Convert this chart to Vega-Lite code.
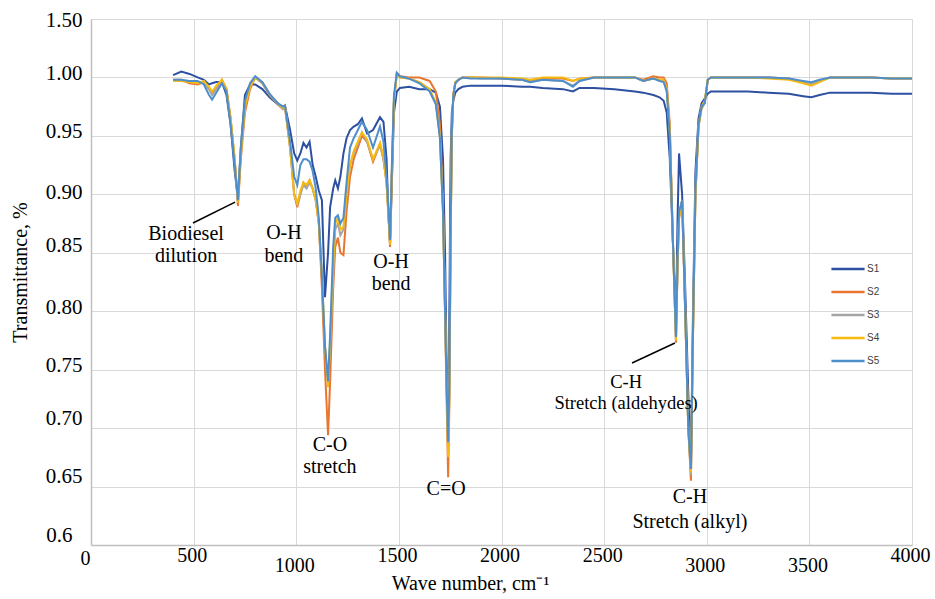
{
  "$schema": "https://vega.github.io/schema/vega-lite/v6.json",
  "width": 821,
  "height": 526,
  "autosize": {"type": "none"},
  "padding": {"left": 91, "top": 19, "right": 23, "bottom": 54},
  "background": "white",
  "config": {"view": {"stroke": null}, "font": "Liberation Serif"},
  "datasets": {
    "spectra": [
      {"w":400,"S1":1.002,"S2":0.998,"S3":0.998,"S4":0.997,"S5":0.998},
      {"w":440,"S1":1.005,"S2":0.998,"S3":0.997,"S4":0.997,"S5":0.998},
      {"w":480,"S1":1.003,"S2":0.995,"S3":0.997,"S4":0.996,"S5":0.997},
      {"w":520,"S1":1.0,"S2":0.994,"S3":0.995,"S4":0.995,"S5":0.997},
      {"w":550,"S1":0.998,"S2":0.996,"S3":0.996,"S4":0.997,"S5":0.994},
      {"w":575,"S1":0.994,"S2":0.99,"S3":0.99,"S4":0.992,"S5":0.985},
      {"w":590,"S1":0.995,"S2":0.987,"S3":0.985,"S4":0.988,"S5":0.981},
      {"w":610,"S1":0.996,"S2":0.99,"S3":0.99,"S4":0.993,"S5":0.987},
      {"w":638,"S1":0.996,"S2":0.998,"S3":0.996,"S4":0.998,"S5":0.995},
      {"w":660,"S1":0.985,"S2":0.99,"S3":0.99,"S4":0.99,"S5":0.988},
      {"w":680,"S1":0.96,"S2":0.965,"S3":0.965,"S4":0.965,"S5":0.96},
      {"w":700,"S1":0.92,"S2":0.93,"S3":0.93,"S4":0.93,"S5":0.925},
      {"w":716,"S1":0.897,"S2":0.89,"S3":0.893,"S4":0.893,"S5":0.895},
      {"w":730,"S1":0.94,"S2":0.93,"S3":0.935,"S4":0.935,"S5":0.94},
      {"w":750,"S1":0.985,"S2":0.97,"S3":0.975,"S4":0.975,"S5":0.98},
      {"w":775,"S1":0.994,"S2":0.99,"S3":0.993,"S4":0.992,"S5":0.995},
      {"w":800,"S1":0.994,"S2":1.0,"S3":1.0,"S4":1.0,"S5":1.001},
      {"w":835,"S1":0.99,"S2":0.995,"S3":0.995,"S4":0.996,"S5":0.996},
      {"w":870,"S1":0.983,"S2":0.985,"S3":0.985,"S4":0.986,"S5":0.986},
      {"w":910,"S1":0.977,"S2":0.977,"S3":0.977,"S4":0.978,"S5":0.978},
      {"w":935,"S1":0.975,"S2":0.973,"S3":0.973,"S4":0.974,"S5":0.975},
      {"w":945,"S1":0.976,"S2":0.975,"S3":0.975,"S4":0.976,"S5":0.976},
      {"w":970,"S1":0.955,"S2":0.94,"S3":0.94,"S4":0.94,"S5":0.945},
      {"w":990,"S1":0.935,"S2":0.9,"S3":0.9,"S4":0.9,"S5":0.915},
      {"w":1005,"S1":0.929,"S2":0.889,"S3":0.892,"S4":0.892,"S5":0.908},
      {"w":1020,"S1":0.935,"S2":0.9,"S3":0.9,"S4":0.903,"S5":0.925},
      {"w":1035,"S1":0.944,"S2":0.91,"S3":0.908,"S4":0.91,"S5":0.93},
      {"w":1050,"S1":0.94,"S2":0.907,"S3":0.905,"S4":0.908,"S5":0.93},
      {"w":1065,"S1":0.945,"S2":0.912,"S3":0.91,"S4":0.912,"S5":0.928},
      {"w":1080,"S1":0.925,"S2":0.905,"S3":0.905,"S4":0.905,"S5":0.92},
      {"w":1095,"S1":0.915,"S2":0.895,"S3":0.895,"S4":0.895,"S5":0.905},
      {"w":1110,"S1":0.903,"S2":0.875,"S3":0.875,"S4":0.875,"S5":0.88},
      {"w":1125,"S1":0.895,"S2":0.82,"S3":0.83,"S4":0.83,"S5":0.83},
      {"w":1140,"S1":0.812,"S2":0.75,"S3":0.77,"S4":0.77,"S5":0.77},
      {"w":1155,"S1":0.85,"S2":0.694,"S3":0.738,"S4":0.735,"S5":0.74},
      {"w":1165,"S1":0.889,"S2":0.74,"S3":0.77,"S4":0.775,"S5":0.78},
      {"w":1180,"S1":0.905,"S2":0.82,"S3":0.83,"S4":0.84,"S5":0.855},
      {"w":1190,"S1":0.912,"S2":0.855,"S3":0.87,"S4":0.875,"S5":0.88},
      {"w":1203,"S1":0.905,"S2":0.863,"S3":0.875,"S4":0.88,"S5":0.882},
      {"w":1215,"S1":0.915,"S2":0.85,"S3":0.865,"S4":0.87,"S5":0.875},
      {"w":1230,"S1":0.935,"S2":0.848,"S3":0.87,"S4":0.872,"S5":0.88},
      {"w":1245,"S1":0.948,"S2":0.885,"S3":0.9,"S4":0.9,"S5":0.91},
      {"w":1262,"S1":0.955,"S2":0.915,"S3":0.925,"S4":0.925,"S5":0.94},
      {"w":1280,"S1":0.958,"S2":0.93,"S3":0.935,"S4":0.937,"S5":0.948},
      {"w":1300,"S1":0.96,"S2":0.94,"S3":0.943,"S4":0.945,"S5":0.955},
      {"w":1320,"S1":0.965,"S2":0.95,"S3":0.953,"S4":0.953,"S5":0.962},
      {"w":1345,"S1":0.952,"S2":0.945,"S3":0.945,"S4":0.947,"S5":0.955},
      {"w":1374,"S1":0.955,"S2":0.928,"S3":0.93,"S4":0.93,"S5":0.94},
      {"w":1408,"S1":0.966,"S2":0.943,"S3":0.942,"S4":0.944,"S5":0.958},
      {"w":1425,"S1":0.962,"S2":0.93,"S3":0.93,"S4":0.932,"S5":0.945},
      {"w":1440,"S1":0.93,"S2":0.91,"S3":0.91,"S4":0.91,"S5":0.915},
      {"w":1450,"S1":0.88,"S2":0.88,"S3":0.88,"S4":0.88,"S5":0.885},
      {"w":1457,"S1":0.858,"S2":0.855,"S3":0.858,"S4":0.857,"S5":0.861},
      {"w":1466,"S1":0.91,"S2":0.92,"S3":0.92,"S4":0.92,"S5":0.925},
      {"w":1476,"S1":0.97,"S2":0.98,"S3":0.98,"S4":0.98,"S5":0.985},
      {"w":1490,"S1":0.988,"S2":1.004,"S3":1.003,"S4":1.003,"S5":1.004},
      {"w":1505,"S1":0.991,"S2":1.001,"S3":1.0,"S4":1.0,"S5":1.001},
      {"w":1550,"S1":0.992,"S2":1.0,"S3":0.999,"S4":0.999,"S5":0.999},
      {"w":1600,"S1":0.99,"S2":1.0,"S3":0.996,"S4":0.996,"S5":0.995},
      {"w":1650,"S1":0.99,"S2":0.997,"S3":0.99,"S4":0.99,"S5":0.988},
      {"w":1680,"S1":0.987,"S2":0.988,"S3":0.978,"S4":0.978,"S5":0.977},
      {"w":1700,"S1":0.975,"S2":0.96,"S3":0.95,"S4":0.95,"S5":0.948},
      {"w":1715,"S1":0.93,"S2":0.89,"S3":0.885,"S4":0.885,"S5":0.885},
      {"w":1725,"S1":0.85,"S2":0.8,"S3":0.8,"S4":0.8,"S5":0.8},
      {"w":1732,"S1":0.76,"S2":0.73,"S3":0.74,"S4":0.74,"S5":0.74},
      {"w":1740,"S1":0.69,"S2":0.658,"S3":0.68,"S4":0.675,"S5":0.688},
      {"w":1746,"S1":0.8,"S2":0.72,"S3":0.73,"S4":0.73,"S5":0.74},
      {"w":1752,"S1":0.93,"S2":0.86,"S3":0.86,"S4":0.86,"S5":0.87},
      {"w":1758,"S1":0.97,"S2":0.95,"S3":0.95,"S4":0.95,"S5":0.955},
      {"w":1765,"S1":0.98,"S2":0.985,"S3":0.984,"S4":0.985,"S5":0.984},
      {"w":1775,"S1":0.987,"S2":0.995,"S3":0.996,"S4":0.996,"S5":0.995},
      {"w":1790,"S1":0.99,"S2":0.998,"S3":0.998,"S4":0.998,"S5":0.998},
      {"w":1810,"S1":0.992,"S2":1.0,"S3":1.0,"S4":1.0,"S5":1.0},
      {"w":1850,"S1":0.993,"S2":1.0,"S3":1.0,"S4":1.0,"S5":0.999},
      {"w":1900,"S1":0.993,"S2":1.0,"S3":0.999,"S4":1.0,"S5":0.999},
      {"w":2000,"S1":0.993,"S2":0.999,"S3":0.999,"S4":1.0,"S5":0.999},
      {"w":2100,"S1":0.992,"S2":0.998,"S3":0.998,"S4":0.999,"S5":0.998},
      {"w":2140,"S1":0.992,"S2":0.997,"S3":0.996,"S4":0.998,"S5":0.996},
      {"w":2200,"S1":0.991,"S2":0.999,"S3":0.998,"S4":1.0,"S5":0.998},
      {"w":2300,"S1":0.99,"S2":0.999,"S3":0.997,"S4":1.0,"S5":0.997},
      {"w":2348,"S1":0.988,"S2":0.997,"S3":0.993,"S4":0.997,"S5":0.992},
      {"w":2380,"S1":0.991,"S2":0.999,"S3":0.997,"S4":0.999,"S5":0.997},
      {"w":2450,"S1":0.991,"S2":1.0,"S3":1.0,"S4":1.0,"S5":1.0},
      {"w":2550,"S1":0.99,"S2":1.0,"S3":1.0,"S4":1.0,"S5":1.0},
      {"w":2650,"S1":0.988,"S2":1.0,"S3":1.0,"S4":1.0,"S5":1.0},
      {"w":2690,"S1":0.987,"S2":0.998,"S3":0.997,"S4":0.997,"S5":0.997},
      {"w":2740,"S1":0.985,"S2":1.001,"S3":0.999,"S4":0.999,"S5":0.999},
      {"w":2770,"S1":0.983,"S2":1.0,"S3":0.998,"S4":0.998,"S5":0.997},
      {"w":2790,"S1":0.98,"S2":1.0,"S3":0.997,"S4":0.998,"S5":0.996},
      {"w":2805,"S1":0.97,"S2":0.995,"S3":0.99,"S4":0.99,"S5":0.988},
      {"w":2820,"S1":0.93,"S2":0.96,"S3":0.955,"S4":0.955,"S5":0.95},
      {"w":2835,"S1":0.86,"S2":0.86,"S3":0.86,"S4":0.86,"S5":0.86},
      {"w":2850,"S1":0.79,"S2":0.773,"S3":0.776,"S4":0.775,"S5":0.778},
      {"w":2858,"S1":0.88,"S2":0.84,"S3":0.84,"S4":0.84,"S5":0.845},
      {"w":2865,"S1":0.935,"S2":0.88,"S3":0.88,"S4":0.88,"S5":0.885},
      {"w":2880,"S1":0.9,"S2":0.895,"S3":0.895,"S4":0.895,"S5":0.895},
      {"w":2895,"S1":0.82,"S2":0.8,"S3":0.8,"S4":0.8,"S5":0.8},
      {"w":2910,"S1":0.73,"S2":0.7,"S3":0.7,"S4":0.7,"S5":0.7},
      {"w":2923,"S1":0.668,"S2":0.655,"S3":0.66,"S4":0.662,"S5":0.665},
      {"w":2933,"S1":0.8,"S2":0.78,"S3":0.78,"S4":0.78,"S5":0.785},
      {"w":2945,"S1":0.92,"S2":0.9,"S3":0.9,"S4":0.9,"S5":0.905},
      {"w":2960,"S1":0.965,"S2":0.96,"S3":0.958,"S4":0.958,"S5":0.96},
      {"w":2975,"S1":0.978,"S2":0.975,"S3":0.973,"S4":0.975,"S5":0.975},
      {"w":2990,"S1":0.982,"S2":0.978,"S3":0.978,"S4":0.98,"S5":0.978},
      {"w":3005,"S1":0.986,"S2":0.998,"S3":0.998,"S4":0.998,"S5":0.998},
      {"w":3020,"S1":0.988,"S2":1.0,"S3":1.0,"S4":1.0,"S5":1.0},
      {"w":3100,"S1":0.988,"S2":1.0,"S3":1.0,"S4":1.0,"S5":1.0},
      {"w":3200,"S1":0.988,"S2":1.0,"S3":1.0,"S4":1.0,"S5":1.0},
      {"w":3300,"S1":0.987,"S2":1.0,"S3":1.0,"S4":0.999,"S5":1.0},
      {"w":3400,"S1":0.986,"S2":0.999,"S3":0.999,"S4":0.998,"S5":0.999},
      {"w":3470,"S1":0.984,"S2":0.996,"S3":0.996,"S4":0.995,"S5":0.997},
      {"w":3510,"S1":0.983,"S2":0.994,"S3":0.994,"S4":0.993,"S5":0.996},
      {"w":3550,"S1":0.985,"S2":0.997,"S3":0.997,"S4":0.996,"S5":0.998},
      {"w":3600,"S1":0.987,"S2":1.0,"S3":1.0,"S4":1.0,"S5":1.0},
      {"w":3700,"S1":0.987,"S2":1.0,"S3":1.0,"S4":1.0,"S5":1.0},
      {"w":3800,"S1":0.987,"S2":1.0,"S3":1.0,"S4":1.0,"S5":1.0},
      {"w":3900,"S1":0.986,"S2":0.999,"S3":0.999,"S4":0.999,"S5":0.999},
      {"w":4000,"S1":0.986,"S2":0.999,"S3":0.999,"S4":0.999,"S5":0.999}
    ],
    "pointers": [
      {"w":497,"t":0.8755,"w2":702,"t2":0.8934},
      {"w":2636,"t":0.7557,"w2":2845,"t2":0.7728}
    ],
    "notes": [
      {"w":463,"t":0.861,"label":"Biodiesel"},
      {"w":463,"t":0.842,"label":"dilution"},
      {"w":940,"t":0.862,"label":"O-H"},
      {"w":940,"t":0.842,"label":"bend"},
      {"w":1462,"t":0.837,"label":"O-H"},
      {"w":1462,"t":0.818,"label":"bend"},
      {"w":1164,"t":0.6804,"label":"C-O"},
      {"w":1164,"t":0.6616,"label":"stretch"},
      {"w":1730,"t":0.6428,"label":"C=O"},
      {"w":2918,"t":0.6359,"label":"C-H"},
      {"w":2918,"t":0.6145,"label":"Stretch (alkyl)"}
    ],
    "notes_small": [
      {"w":2607,"t":0.7343,"label":"C-H"},
      {"w":2607,"t":0.7164,"label":"Stretch (aldehydes)"}
    ]
  },
  "encoding": {
    "x": {
      "field": "w", "type": "quantitative",
      "scale": {"domain": [0, 4000], "nice": false, "zero": false},
      "axis": {
        "values": [0, 500, 1000, 1500, 2000, 2500, 3000, 3500, 4000],
        "format": "d",
        "ticks": false, "tickSize": 0,
        "domainColor": "#bfbfbf", "domainWidth": 1.5,
        "gridColor": "#d9d9d9", "gridWidth": 1,
        "labelFont": "Liberation Serif", "labelFontSize": 20, "labelColor": "black",
        "labelBaseline": "top", "labelFlush": false, "labelOverlap": false,
        "labelPadding": {"condition": [
          {"test": "datum.value == 1000 || datum.value == 3000 || datum.value == 3500", "value": 10},
          {"test": "datum.value == 0", "value": 3}
        ], "value": 0},
        "labelOffset": {"condition": {"test": "datum.value == 0", "value": -6}, "value": -2},
        "title": "Wave number, cm⁻¹",
        "titleFont": "Liberation Serif", "titleFontSize": 20, "titleFontWeight": "normal", "titleColor": "black",
        "titleX": 379, "titleY": 44, "titleBaseline": "alphabetic", "titleAlign": "center"
      }
    },
    "y": {
      "field": "t", "type": "quantitative",
      "scale": {"domain": [0.6, 1.05], "nice": false, "zero": false},
      "axis": {
        "values": [0.6, 0.65, 0.7, 0.75, 0.8, 0.85, 0.9, 0.95, 1.0, 1.05],
        "labelExpr": "datum.value > 1.04 ? '1.50' : (datum.value < 0.61 ? '0.6' : format(datum.value, '.2f'))",
        "ticks": false, "tickSize": 0,
        "domainColor": "#bfbfbf", "domainWidth": 1.5,
        "gridColor": "#d9d9d9", "gridWidth": 1,
        "labelFont": "Liberation Serif", "labelFontSize": 21, "labelColor": "black",
        "labelBaseline": "middle", "labelFlush": false, "labelOverlap": false,
        "labelPadding": {"condition": {"test": "datum.value < 0.61", "value": 19}, "value": 9},
        "labelOffset": {"condition": [
          {"test": "datum.value > 1.04", "value": 1},
          {"test": "datum.value < 0.71", "value": -10},
          {"test": "datum.value == 0.85", "value": -7},
          {"test": "datum.value == 0.9", "value": -2}
        ], "value": -4},
        "title": "Transmittance, %",
        "titleFont": "Liberation Serif", "titleFontSize": 20, "titleFontWeight": "normal", "titleColor": "black",
        "titleX": -71, "titleY": 253, "titleAngle": -90, "titleAlign": "center", "titleBaseline": "middle"
      }
    }
  },
  "layer": [
    {
      "data": {"name": "spectra"},
      "transform": [{"fold": ["S1", "S2", "S3", "S4", "S5"], "as": ["sample", "t"]}],
      "mark": {"type": "line", "strokeWidth": 2},
      "encoding": {
        "color": {
          "field": "sample", "type": "nominal",
          "scale": {"domain": ["S1", "S2", "S3", "S4", "S5"], "range": ["#2D50A0", "#E8762F", "#A5A5A5", "#F7BA0E", "#4E8FCB"]},
          "legend": {
            "title": null, "orient": "none", "legendX": 739, "legendY": 232,
            "symbolType": "stroke", "symbolStrokeWidth": 2.5, "symbolSize": 1100,
            "labelFont": "Liberation Sans", "labelFontSize": 10, "labelColor": "#404040",
            "labelOffset": 1, "rowPadding": -0.2, "padding": 0
          }
        }
      }
    },
    {
      "data": {"name": "pointers"},
      "mark": {"type": "rule", "color": "black", "strokeWidth": 1.5},
      "encoding": {
        "x2": {"field": "w2"},
        "y2": {"field": "t2"}
      }
    },
    {
      "data": {"name": "notes"},
      "mark": {"type": "text", "font": "Liberation Serif", "fontSize": 20, "align": "center", "baseline": "alphabetic", "color": "black"},
      "encoding": {"text": {"field": "label"}}
    },
    {
      "data": {"name": "notes_small"},
      "mark": {"type": "text", "font": "Liberation Serif", "fontSize": 18.5, "align": "center", "baseline": "alphabetic", "color": "black"},
      "encoding": {"text": {"field": "label"}}
    }
  ]
}
